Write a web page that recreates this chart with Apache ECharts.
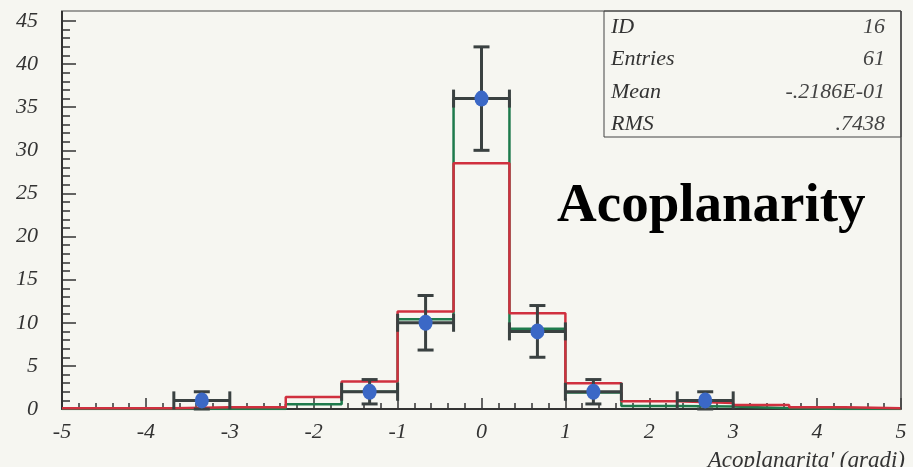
<!DOCTYPE html>
<html>
<head>
<meta charset="utf-8">
<script src="https://cdn.jsdelivr.net/npm/echarts@6/dist/echarts.min.js"></script>
<style>
html, body { margin: 0; padding: 0; background: #f6f6f1; }
#chart-1 { width: 913px; height: 467px; }
</style>
</head>
<body>
<div id="chart-1"></div>
<script>
// bin edges of the histogram (15 bins from -5 to 5)
var binEdges = [-5, -4.333, -3.667, -3, -2.333, -1.667, -1, -0.333, 0.333, 1, 1.667, 2.333, 3, 3.667, 4.333, 5];
// red histogram (MC)
var redValues = [0.1, 0.1, 0.2, 0.2, 1.4, 3.2, 11.3, 28.5, 11.1, 3.0, 0.9, 0.7, 0.45, 0.2, 0.1];
// green histogram
var greenValues = [0, 0, 0, 0, 0.55, 2.0, 10.4, 36, 9.3, 1.9, 0.35, 0.3, 0.1, 0, 0];
// data points (counts per bin)
var dataCounts = [0, 0, 1, 0, 0, 2, 10, 36, 9, 2, 0, 1, 0, 0, 0];
// stats box
var statNames = ['ID', 'Entries', 'Mean', 'RMS'];
var statValues = ['16', '61', '-.2186E-01', '.7438'];

var dom = document.getElementById("chart-1");
var myChart = echarts.init(dom);
var option = null;

var stepData = function (vals) {
    var res = [];
    for (var i = 0; i < vals.length; i++) {
        res.push([binEdges[i], vals[i]]);
    }
    res.push([binEdges[vals.length], vals[vals.length - 1]]);
    return res;
};

var pointData = [];
var errData = [];
for (var i = 0; i < dataCounts.length; i++) {
    if (dataCounts[i] > 0) {
        var c = (binEdges[i] + binEdges[i + 1]) / 2;
        pointData.push([c, dataCounts[i]]);
        errData.push([c, dataCounts[i], Math.sqrt(dataCounts[i]), binEdges[i], binEdges[i + 1]]);
    }
}

var errColor = '#3a4141';
var serif = '"Liberation Serif", "DejaVu Serif", serif';

// frame: top line, right line, and the bit of y axis above 45
var frameGraphics = [
    { type: 'line', shape: { x1: 61, y1: 11, x2: 901, y2: 11 }, style: { stroke: '#444', lineWidth: 1.2 }, z: 10 },
    { type: 'line', shape: { x1: 901, y1: 11, x2: 901, y2: 409 }, style: { stroke: '#444', lineWidth: 1.5 }, z: 10 },
    { type: 'line', shape: { x1: 62, y1: 11, x2: 62, y2: 22 }, style: { stroke: '#333', lineWidth: 2 }, z: 10 }
];

var statGraphics = [{
    type: 'rect',
    shape: { x: 604, y: 11, width: 297, height: 126 },
    style: { fill: 'none', stroke: '#444', lineWidth: 1 },
    z: 10
}];
statNames.forEach(function (name, i) {
    statGraphics.push({
        type: 'text', left: 611, top: 16 + i * 32.5, z: 10,
        style: { text: name, font: 'italic 22px ' + serif, fill: '#333' }
    });
    statGraphics.push({
        type: 'text', right: 28, top: 16 + i * 32.5, z: 10,
        style: { text: statValues[i], font: 'italic 22px ' + serif, fill: '#444', textAlign: 'right' }
    });
});
statGraphics.push({
    type: 'text', left: 557, top: 179, z: 10,
    style: { text: 'Acoplanarity', font: 'bold 55px ' + serif, fill: '#000' }
});
statGraphics.push({
    type: 'text', right: 8, top: 449, z: 10,
    style: { text: "Acoplanarita' (gradi)", font: 'italic 23px ' + serif, fill: '#333', textAlign: 'right' }
});

option = {
    backgroundColor: '#f6f6f1',
    animation: false,
    grid: {
        left: 62,
        right: 12,
        top: 21,
        bottom: 58
    },
    xAxis: {
        type: 'value',
        min: -5,
        max: 5,
        interval: 1,
        axisLine: { onZero: false, lineStyle: { color: '#333', width: 2 } },
        axisTick: { inside: true, length: 11, lineStyle: { color: '#333', width: 1.5 } },
        minorTick: { show: true, splitNumber: 5, length: 6, lineStyle: { color: '#333', width: 1.5 } },
        splitLine: { show: false },
        axisLabel: {
            margin: 12,
            color: '#333',
            fontFamily: serif,
            fontStyle: 'italic',
            fontSize: 22,
            showMinLabel: true,
            showMaxLabel: true
        }
    },
    yAxis: {
        type: 'value',
        min: 0,
        max: 45,
        interval: 5,
        axisLine: { show: true, onZero: false, lineStyle: { color: '#333', width: 2 } },
        axisTick: { inside: true, length: 14, lineStyle: { color: '#333', width: 1.5 } },
        minorTick: { show: true, splitNumber: 5, length: 8, lineStyle: { color: '#333', width: 1.5 } },
        splitLine: { show: false },
        axisLabel: {
            margin: 24,
            color: '#333',
            fontFamily: serif,
            fontStyle: 'italic',
            fontSize: 22
        }
    },
    graphic: frameGraphics.concat(statGraphics),
    series: [
        {
            name: 'green',
            type: 'line',
            step: 'end',
            symbol: 'none',
            z: 2,
            lineStyle: { color: '#1e7a4c', width: 2.5 },
            data: stepData(greenValues)
        },
        {
            name: 'red',
            type: 'line',
            step: 'end',
            symbol: 'none',
            z: 3,
            lineStyle: { color: '#d0303f', width: 2.5 },
            data: stepData(redValues)
        },
        {
            name: 'errors',
            type: 'custom',
            z: 4,
            renderItem: function (params, api) {
                var x = api.value(0), y = api.value(1), e = api.value(2);
                var p = api.coord([x, y]);
                var top = api.coord([x, y + e]);
                var bot = api.coord([x, Math.max(y - e, 0)]);
                var left = api.coord([api.value(3), y]);
                var right = api.coord([api.value(4), y]);
                var style = { stroke: errColor, lineWidth: 3 };
                var capW = 8, capH = 9;
                return {
                    type: 'group',
                    children: [
                        { type: 'line', shape: { x1: top[0], y1: top[1], x2: bot[0], y2: bot[1] }, style: style },
                        { type: 'line', shape: { x1: top[0] - capW, y1: top[1], x2: top[0] + capW, y2: top[1] }, style: style },
                        { type: 'line', shape: { x1: bot[0] - capW, y1: bot[1], x2: bot[0] + capW, y2: bot[1] }, style: style },
                        { type: 'line', shape: { x1: left[0], y1: p[1], x2: right[0], y2: p[1] }, style: style },
                        { type: 'line', shape: { x1: left[0], y1: p[1] - capH, x2: left[0], y2: p[1] + capH }, style: style },
                        { type: 'line', shape: { x1: right[0], y1: p[1] - capH, x2: right[0], y2: p[1] + capH }, style: style }
                    ]
                };
            },
            data: errData
        },
        {
            name: 'data',
            type: 'scatter',
            symbol: 'circle',
            symbolSize: [14, 16],
            z: 5,
            itemStyle: { color: '#3b68c6', opacity: 1 },
            data: pointData
        }
    ]
};
if (option && typeof option === "object") {
    myChart.setOption(option, true);
}
</script>
</body>
</html>
